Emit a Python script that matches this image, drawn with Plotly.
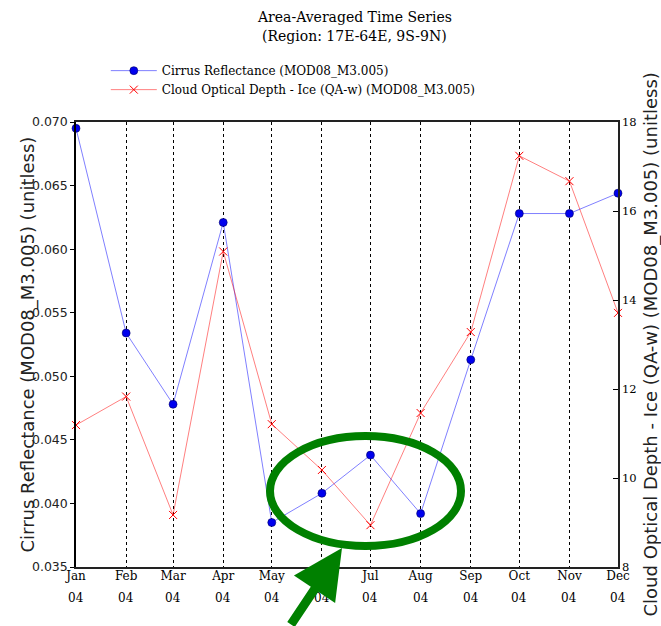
import plotly.graph_objects as go

months = ["2004-01-01", "2004-02-01", "2004-03-01", "2004-04-01", "2004-05-01", "2004-06-01",
          "2004-07-01", "2004-08-01", "2004-09-01", "2004-10-01", "2004-11-01", "2004-12-01"]
month_labels = ["Jan", "Feb", "Mar", "Apr", "May", "Jun", "Jul", "Aug", "Sep", "Oct", "Nov", "Dec"]
year_labels = ["04"] * 12

cirrus = [0.0695, 0.0534, 0.0478, 0.0621, 0.0385, 0.0408, 0.0438, 0.0392, 0.0513, 0.0628, 0.0628, 0.0644]
cod_ice = [11.19, 11.83, 9.17, 15.09, 11.21, 10.18, 8.94, 11.46, 13.28, 17.24, 16.67, 13.71]

left_ticks = [0.035, 0.040, 0.045, 0.050, 0.055, 0.060, 0.065, 0.070]
right_ticks = [8, 10, 12, 14, 16, 18]

title_lines = ["Area-Averaged Time Series", "(Region: 17E-64E, 9S-9N)"]
left_title = "Cirrus Reflectance (MOD08_M3.005) (unitless)"
right_title = "Cloud Optical Depth - Ice (QA-w) (MOD08_M3.005) (unitless)"

SERIF = "DejaVu Serif"
SANS = "DejaVu Sans"

# plot area in pixels (for paper-coordinate conversions of decorations)
L, R, T, B = 76, 618, 122, 567
W, H = R - L, B - T


def px(x):
    return (x - L) / W


def py(y):
    return (B - y) / H


fig = go.Figure()
fig.add_trace(go.Scatter(
    x=months, y=cirrus, name="Cirrus Reflectance (MOD08_M3.005)",
    mode="lines+markers", cliponaxis=False,
    line=dict(color="rgba(0,0,255,0.5)", width=1),
    marker=dict(symbol="circle", size=8, color="#0000ee", line=dict(color="#000066", width=0.6)),
))
fig.add_trace(go.Scatter(
    x=months, y=cod_ice, name="Cloud Optical Depth - Ice (QA-w) (MOD08_M3.005)",
    mode="lines+markers", cliponaxis=False, yaxis="y2",
    line=dict(color="rgba(255,0,0,0.5)", width=1),
    marker=dict(symbol="x-thin", size=8, color="red", line=dict(color="red", width=1)),
))

annotations = []
for m, yl in zip(months, year_labels):
    annotations.append(dict(x=m, y=0, xref="x", yref="paper", yanchor="top", yshift=-22,
                            text=yl, showarrow=False, font=dict(family=SERIF, size=12, color="black")))

# title lines
for txt, ypix in zip(title_lines, [17, 36]):
    annotations.append(dict(x=px(354), y=py(ypix), xref="paper", yref="paper", xanchor="center",
                            yanchor="middle", text=txt, showarrow=False,
                            font=dict(family=SERIF, size=14, color="black")))

# axis titles
annotations.append(dict(x=px(27), y=0.5, xref="paper", yref="paper", xanchor="center", yanchor="middle",
                        text=left_title, textangle=-90, showarrow=False,
                        font=dict(family=SANS, size=18, color="#222")))
annotations.append(dict(x=px(650), y=0.5, xref="paper", yref="paper", xanchor="center", yanchor="middle",
                        text=right_title, textangle=-90, showarrow=False,
                        font=dict(family=SANS, size=18, color="#222")))

# green arrow
annotations.append(dict(x=px(342), y=py(548), xref="paper", yref="paper", text="", showarrow=True,
                        ax=-52, ay=95, axref="pixel", ayref="pixel", arrowhead=2, arrowsize=1.1,
                        arrowwidth=9, arrowcolor="#008000", standoff=0))

fig.update_layout(
    width=661, height=626,
    margin=dict(l=L, r=661 - R, t=T, b=626 - B, autoexpand=False),
    paper_bgcolor="white", plot_bgcolor="white",
    showlegend=True,
    legend=dict(x=0.055, y=1.148, xanchor="left", yanchor="top", bgcolor="rgba(0,0,0,0)",
                font=dict(family=SERIF, size=12, color="black"), itemwidth=46, tracegroupgap=0),
    xaxis=dict(type="date", range=[months[0], months[-1]], tickmode="array", tickvals=months,
               ticktext=month_labels, showgrid=True, gridcolor="black", griddash="dot", gridwidth=1,
               showline=True, linecolor="#222", linewidth=1.5, mirror=True, ticks="",
               automargin=False, ticklabelstandoff=-3,
               tickfont=dict(family=SERIF, size=12, color="black"), zeroline=False),
    yaxis=dict(range=[0.035, 0.070], tickmode="array", tickvals=left_ticks,
               ticktext=[f"{v:.3f}" for v in left_ticks], showgrid=False, zeroline=False,
               showline=True, linecolor="black", linewidth=1.5, ticks="outside", ticklen=4,
               automargin=False,
               tickcolor="black", tickfont=dict(family=SANS, size=12.5, color="#222")),
    yaxis2=dict(range=[8, 18], overlaying="y", side="right", tickmode="array", tickvals=right_ticks,
                showgrid=False, zeroline=False, showline=True, linecolor="#222", linewidth=1.5,
                ticks="inside", ticklen=5, tickcolor="black", automargin=False,
                tickfont=dict(family=SERIF, size=11.5, color="black")),
    annotations=annotations,
    shapes=[dict(type="circle", xref="paper", yref="paper",
                 x0=px(270), x1=px(461), y0=py(546), y1=py(436),
                 line=dict(color="#008000", width=8), layer="above")],
)

fig.write_html("out.html", config={"displayModeBar": False},
               post_script="document.body.style.margin='0';document.body.style.overflow='hidden';")
